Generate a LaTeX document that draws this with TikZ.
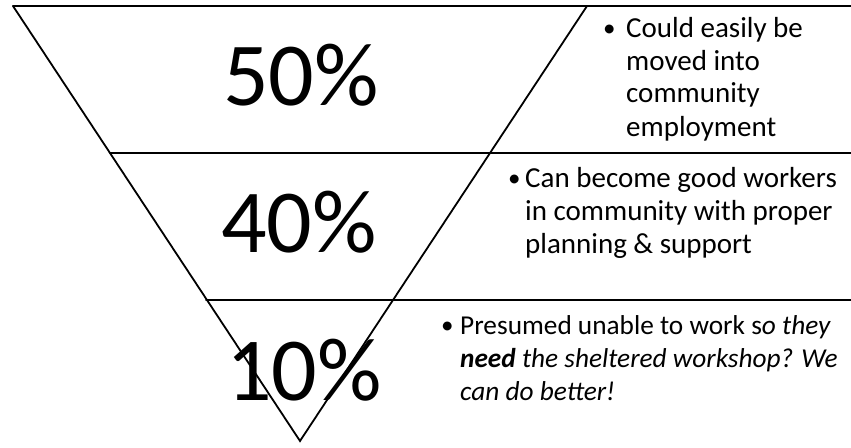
\documentclass[tikz,border=0pt]{standalone}
\usepackage{fontspec}
\setmainfont{Carlito}
\newcommand\mylines[1]{\vtop{\halign{##\hfil\cr #1\crcr}}}
\begin{document}
\begin{tikzpicture}[x=1pt,y=-1pt,
  edge/.style={line width=1.8pt, line cap=round},
  big/.style={font=\fontsize{90}{90}\selectfont, anchor=base, inner sep=0pt},
  bul/.style={anchor=base west, inner sep=0pt, font=\fontsize{25}{33}\selectfont},
  txt/.style={anchor=base west, inner sep=0pt, font=\fontsize{29}{33}\selectfont}]
\useasboundingbox (0,0) rectangle (851,447);
% triangle corners
\coordinate (tl) at (13,6);
\coordinate (tr) at (587,6);
\coordinate (ap) at (300,441);
\coordinate (rt) at (851,6);
\coordinate (l1) at (110,153);
\coordinate (r1) at (851,153);
\coordinate (l2) at (206,300);
\coordinate (r2) at (851,300);
\draw[edge] (tl) -- (rt);
\draw[edge] (tl) -- (ap) -- (tr);
\draw[edge] (l1) -- (r1);
\draw[edge] (l2) -- (r2);
% percentages
\node[big] (p50) at (301,105) {50\%};
\node[big] (p40) at (299,252) {40\%};
\node[big] (p10) at (304,400) {10\%};
% bullets
\node[bul] (b1) at (603,36) {•};
\node[txt] (t1) at (626,37) {\mylines{Could easily be\cr moved into\cr community\cr employment}};
\node[bul] (b2) at (508,186) {•};
\node[txt] (t2) at (525,187) {\mylines{Can become good workers\cr in community with proper\cr planning \& support}};
\node[bul] (b3) at (441,333) {•};
\node[txt, font=\fontsize{27.3}{33}\selectfont] (t3) at (460,334) {\mylines{Presumed unable to work s\textit{o they}\cr \textit{\textbf{need} the sheltered workshop? We}\cr \textit{can do better!}}};
\end{tikzpicture}
\end{document}
